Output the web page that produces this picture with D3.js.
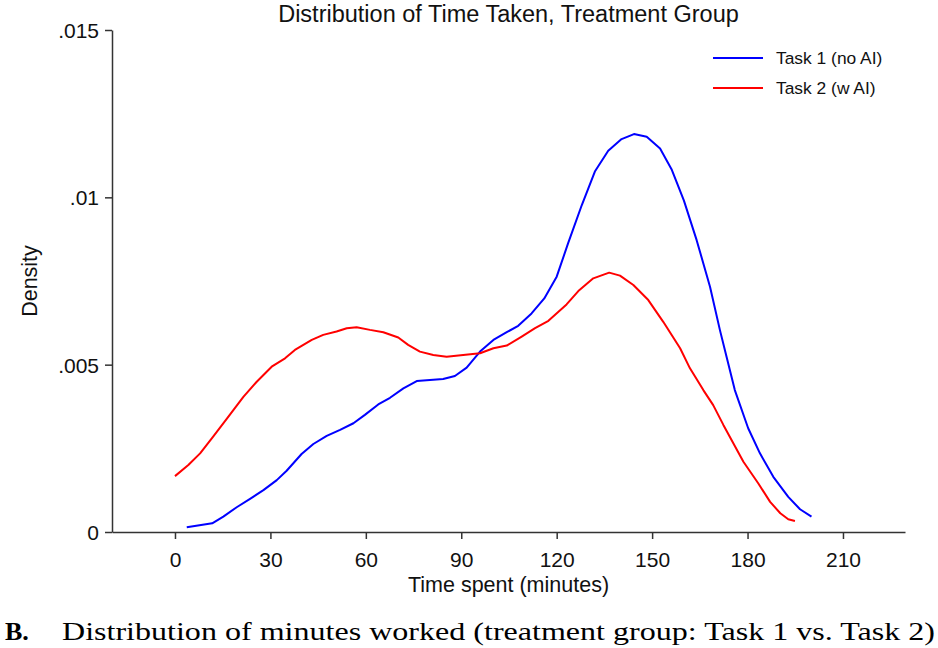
<!DOCTYPE html>
<html lang="en">
<head>
<meta charset="UTF-8">
<title>Distribution of Time Taken, Treatment Group</title>
<script src="https://cdnjs.cloudflare.com/ajax/libs/d3/7.8.5/d3.min.js"></script>
<style>
  body { margin: 0; background: #fff; }
  svg { display: block; font-family: "Liberation Sans", Arial, sans-serif; }
</style>
</head>
<body>
<div id="chart"></div>
<script>
// Task 1 (no AI) density
const task1Minutes = [3.7, 11.7, 15.2, 19.4, 23.6, 27.8, 32.0, 35.1, 39.8, 43.5, 47.7, 51.9, 56.1, 59.7, 63.9, 67.6, 71.8, 76.0, 84.3, 88.0, 91.7, 95.9, 100.1, 104.3, 107.9, 112.1, 116.1, 120.0, 123.6, 127.9, 132.0, 136.2, 140.4, 144.3, 148.3, 152.5, 156.1, 160.0, 164.0, 168.2, 171.3, 173.4, 176.0, 180.2, 183.9, 188.1, 192.8, 196.5, 200.1];
const task1Density = [.00014, .00026, .00046, .00074, .00099, .00125, .00155, .00183, .00233, .00263, .00287, .00305, .00325, .0035, .00381, .00401, .00429, .00451, .00457, .00466, .00491, .00539, .00574, .00597, .00616, .00653, .00698, .00763, .00863, .00977, .01077, .01139, .01174, .01189, .01181, .01146, .01084, .0099, .00872, .00733, .00604, .00524, .00424, .0031, .00235, .00165, .00105, .00068, .00046];

// Task 2 (w AI) density
const task2Minutes = [0, 4.2, 7.9, 12.0, 16.8, 21.5, 25.7, 30.4, 34.6, 37.7, 43.0, 46.6, 50.8, 54.0, 57.1, 61.3, 65.5, 70.2, 73.3, 77.0, 81.2, 85.4, 90.6, 95.9, 100.1, 104.3, 109.0, 113.2, 117.4, 123.1, 126.8, 131.5, 136.5, 139.9, 144.1, 148.8, 153.5, 158.8, 161.9, 166.1, 169.2, 172.4, 178.7, 183.4, 187.1, 190.3, 192.8, 194.9];
const task2Density = [.00167, .002, .00235, .00285, .00345, .00404, .00449, .00494, .00519, .00544, .00574, .00589, .00599, .00609, .00612, .00604, .00597, .00581, .00559, .00539, .00529, .00524, .00529, .00534, .00549, .00557, .00584, .00609, .00631, .0068, .0072, .00758, .00775, .00766, .00738, .00693, .00628, .00549, .00489, .00424, .00379, .0032, .0021, .00145, .0009, .00056, .00038, .00033];

const xTicks = [0, 30, 60, 90, 120, 150, 180, 210];
const yTicks = [0, .005, .01, .015];
const yTickLabels = ["0", ".005", ".01", ".015"];
const seriesNames = ["Task 1 (no AI)", "Task 2 (w AI)"];
const seriesColors = ["#0000ff", "#ff0000"];

const width = 938, height = 648;
const plot = { left: 112, right: 905, top: 30, bottom: 532 };

const svg = d3.select("#chart").append("svg")
  .attr("width", width).attr("height", height);

// x: 0 at 175px, 210 at 843px
const x = d3.scaleLinear()
  .domain([-19.8, 229.5])
  .range([plot.left, plot.right]);
const y = d3.scaleLinear()
  .domain([0, .015])
  .range([plot.bottom, plot.top]);

// axes
const xAxis = svg.append("g")
  .attr("transform", `translate(0,${plot.bottom})`)
  .call(d3.axisBottom(x).tickValues(xTicks).tickSize(7).tickPadding(13).tickSizeOuter(0));
const yAxis = svg.append("g")
  .attr("transform", `translate(${plot.left},0)`)
  .call(d3.axisLeft(y).tickValues(yTicks).tickSize(7).tickPadding(6).tickSizeOuter(0)
    .tickFormat((d, i) => yTickLabels[i]));

[xAxis, yAxis].forEach(a => {
  a.select(".domain").attr("stroke", "#333").attr("stroke-width", 1.5);
  a.selectAll(".tick line").attr("stroke", "#333").attr("stroke-width", 1.5);
  a.selectAll(".tick text")
    .attr("fill", "#111")
    .style("font-size", "21px")
    .style("font-family", "'Liberation Sans', Arial, sans-serif");
});
yAxis.selectAll(".tick text").attr("dy", "0.36em");

// curves
const line = d3.line().x(d => x(d[0])).y(d => y(d[1]));
const series = [
  d3.zip(task1Minutes, task1Density),
  d3.zip(task2Minutes, task2Density)
];
series.forEach((s, i) => {
  svg.append("path")
    .datum(s)
    .attr("d", line)
    .attr("fill", "none")
    .attr("stroke", seriesColors[i])
    .attr("stroke-width", 2)
    .attr("stroke-linejoin", "round");
});

// titles
svg.append("text")
  .attr("x", (plot.left + plot.right) / 2).attr("y", 22)
  .attr("text-anchor", "middle")
  .style("font-size", "23.5px").attr("fill", "#111")
  .text("Distribution of Time Taken, Treatment Group");

svg.append("text")
  .attr("x", (plot.left + plot.right) / 2).attr("y", 592)
  .attr("text-anchor", "middle")
  .style("font-size", "21.5px").attr("fill", "#111")
  .text("Time spent (minutes)");

svg.append("text")
  .attr("transform", `translate(37,${(plot.top + plot.bottom) / 2}) rotate(-90)`)
  .attr("text-anchor", "middle")
  .style("font-size", "21.5px").attr("fill", "#111")
  .text("Density");

// legend
const legend = svg.append("g");
seriesNames.forEach((name, i) => {
  const ly = 58 + i * 30;
  legend.append("line")
    .attr("x1", 713).attr("x2", 763)
    .attr("y1", ly).attr("y2", ly)
    .attr("stroke", seriesColors[i]).attr("stroke-width", 2);
  legend.append("text")
    .attr("x", 776).attr("y", ly).attr("dy", "0.35em")
    .style("font-size", "17.4px").attr("fill", "#111")
    .text(name);
});

// caption
const caption = svg.append("text")
  .attr("x", 5).attr("y", 640)
  .style("font-family", "'Liberation Serif', 'DejaVu Serif', serif")
  .style("font-size", "26px").attr("fill", "#000");
caption.append("tspan").style("font-weight", "bold").text("B.");
caption.append("tspan").attr("x", 62)
  .attr("textLength", 873).attr("lengthAdjust", "spacingAndGlyphs")
  .text("Distribution of minutes worked (treatment group: Task 1 vs. Task 2)");
</script>
</body>
</html>
